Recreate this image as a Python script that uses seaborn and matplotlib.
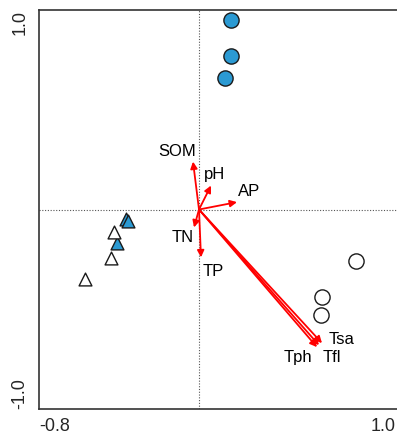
import matplotlib
matplotlib.use("Agg")
import matplotlib.pyplot as plt
import matplotlib.transforms as mtransforms
import seaborn as sns
import pandas as pd

# ---- data ----
site_x = [0.16, 0.16, 0.13, 0.785, 0.615, 0.61, -0.365, -0.355, -0.425, -0.41, -0.44, -0.57]
site_y = [0.95, 0.77, 0.66, -0.26, -0.44, -0.53, -0.05, -0.06, -0.115, -0.17, -0.245, -0.35]
site_group = ["A", "A", "A", "B", "B", "B", "C", "C", "D", "C", "D", "D"]

env_names = ["SOM", "pH", "AP", "TN", "TP", "Tsa", "Tph", "Tfl"]
env_x = [-0.03, 0.06, 0.19, -0.025, 0.01, 0.615, 0.59, 0.60]
env_y = [0.24, 0.12, 0.037, -0.09, -0.24, -0.67, -0.69, -0.68]
label_x = [-0.11, 0.08, 0.25, -0.08, 0.07, 0.715, 0.495, 0.665]
label_y = [0.29, 0.175, 0.092, -0.14, -0.31, -0.65, -0.74, -0.74]

xticks = [-0.8, -0.5, 0.0, 0.5, 1.0]
xticklabels = ["-0.8", "", "", "", "1.0"]
yticks = [-1.0, -0.5, 0.0, 0.5, 1.0]
yticklabels = ["-1.0", "", "", "", "1.0"]

sns.set_style("white")
plt.rcParams["font.family"] = ["Liberation Sans", "DejaVu Sans"]

fig = plt.figure(figsize=(3.97, 4.34), dpi=100)
ax = fig.add_axes([39 / 397, 25 / 434, 360 / 397, 399 / 434])

df = pd.DataFrame({"x": site_x, "y": site_y, "g": site_group})
blue = "#2b9ad3"
styles = {
    "A": dict(marker="o", fc=blue, s=120),
    "B": dict(marker="o", fc="white", s=120),
    "C": dict(marker="^", fc=blue, s=85),
    "D": dict(marker="^", fc="white", s=85),
}
for g, st in styles.items():
    sub = df[df.g == g]
    sns.scatterplot(data=sub, x="x", y="y", marker=st["marker"], s=st["s"],
                    color=st["fc"], edgecolor="#1a1a1a", linewidth=1.0,
                    ax=ax, legend=False, zorder=3)

ax.axhline(0, color="#555555", lw=0.8, ls=(0, (1, 1.5)), zorder=1)
ax.axvline(0, color="#555555", lw=0.8, ls=(0, (1, 1.5)), zorder=1)

for name, ex, ey, lx, ly in zip(env_names, env_x, env_y, label_x, label_y):
    ax.annotate("", xy=(ex, ey), xytext=(0, 0),
                arrowprops=dict(arrowstyle="-|>", color="red", lw=1.3,
                                mutation_scale=10, shrinkA=0, shrinkB=0),
                zorder=4)
    ax.text(lx, ly, name, ha="center", va="center", fontsize=12, color="black", zorder=5)

ax.set_xlim(-0.8, 1.0)
ax.set_ylim(-1.0, 1.0)
ax.set_xticks(xticks)
ax.set_xticklabels(xticklabels, fontsize=13)
ax.set_yticks(yticks)
ax.set_yticklabels(yticklabels, fontsize=13, rotation=90)
ax.tick_params(axis="both", direction="inout", length=5, width=1.0, color="#333333")
ax.tick_params(axis="x", pad=4)
ax.tick_params(axis="y", pad=5)

xl = ax.get_xticklabels()
xl[0].set_ha("left")
xl[-1].set_ha("right")
xl[-1].set_transform(xl[-1].get_transform() +
                     mtransforms.ScaledTranslation(-3 / 100, 0, fig.dpi_scale_trans))
yl = ax.get_yticklabels()
for t in yl:
    t.set_ha("right")
yl[0].set_va("bottom")
yl[-1].set_va("top")
ax.set_xlabel("")
ax.set_ylabel("")
for sp in ax.spines.values():
    sp.set_color("#333333")
    sp.set_linewidth(1.2)

fig.savefig("out.png", dpi=100)
